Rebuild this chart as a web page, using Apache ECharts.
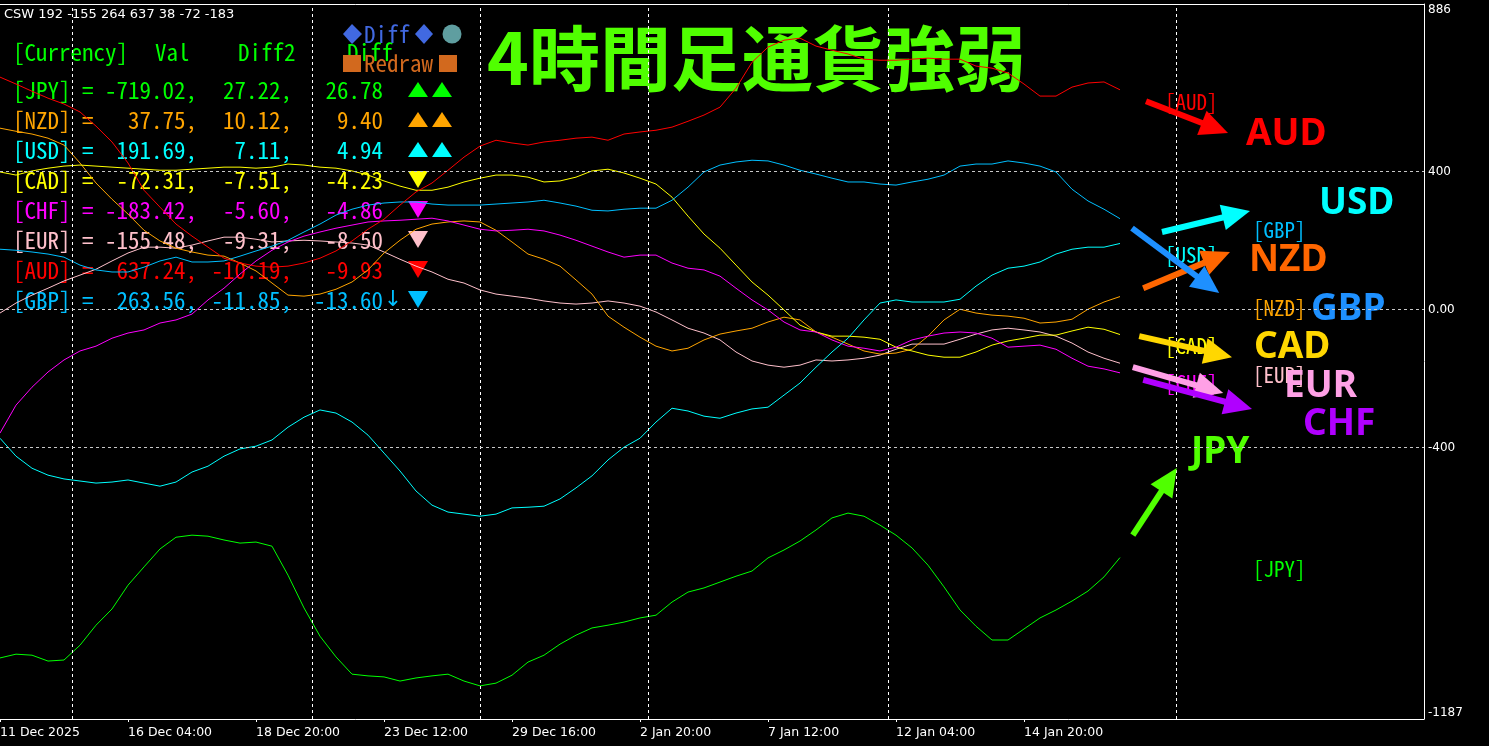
<!DOCTYPE html>
<html>
<head>
<meta charset="utf-8">
<script src="https://cdn.jsdelivr.net/npm/echarts@6/dist/echarts.min.js"></script>
<style>html,body{margin:0;padding:0;background:#000;}#chart{width:1489px;height:746px;}</style>
</head>
<body>
<div id="chart"></div>
<script>
// ---------------- data (one sample every 2 bars) ----------------
const barStep = 2;
const xTickLabels = ['11 Dec 2025','16 Dec 04:00','18 Dec 20:00','23 Dec 12:00','29 Dec 16:00','2 Jan 20:00','7 Jan 12:00','12 Jan 04:00','14 Jan 20:00'];
const xTickBars = [0,16,32,48,64,80,96,112,128];
const vGridBars = [9,39,60,81,111,147];
const hGridValues = [400,0,-400];
const yLabelValues = [-1187,-400,0,400,886];

const AUD = [674,654,633,613,596,573,532,486,425,346,297,248,213,181,149,135,126,123,126,135,149,170,199,233,262,303,341,367,404,442,474,491,483,477,486,491,497,500,491,509,515,520,529,546,564,587,642,717,761,781,787,764,752,741,726,723,723,726,729,726,726,706,700,686,654,619,619,645,657,660,637.24];
const GBP = [175,172,167,161,152,129,115,109,109,123,141,152,138,138,141,155,170,184,201,225,248,274,291,303,309,312,312,306,303,303,303,306,309,312,317,309,300,288,286,291,294,294,317,355,399,419,428,433,431,419,404,393,381,370,370,364,361,370,378,390,416,422,422,431,425,416,399,349,315,291,263.56];
const USD = [-373,-425,-460,-480,-491,-497,-503,-500,-494,-503,-512,-500,-471,-454,-425,-404,-396,-378,-341,-312,-291,-300,-326,-364,-416,-468,-526,-567,-587,-593,-599,-593,-575,-573,-570,-549,-517,-482,-436,-399,-373,-326,-286,-294,-309,-315,-300,-288,-283,-248,-213,-167,-123,-83,-30,19,28,22,22,22,30,68,100,120,126,138,161,175,181,181,191.69];
const JPY = [-1010,-999,-1002,-1019,-1016,-973,-915,-868,-799,-746,-694,-660,-654,-657,-668,-677,-674,-686,-770,-865,-947,-1007,-1057,-1062,-1065,-1077,-1068,-1062,-1057,-1077,-1091,-1083,-1060,-1022,-1002,-970,-944,-923,-915,-906,-894,-886,-848,-819,-807,-790,-773,-758,-720,-697,-671,-639,-604,-590,-599,-625,-654,-691,-741,-804,-871,-918,-958,-958,-926,-894,-871,-845,-816,-775,-719.02];
const CHF = [-358,-277,-225,-181,-146,-120,-106,-83,-68,-59,-39,-30,-13,28,62,103,141,172,196,213,225,236,245,254,257,259,262,265,257,245,233,228,230,233,228,216,201,184,167,152,158,158,135,120,115,97,62,28,-1,-36,-59,-65,-88,-106,-112,-120,-109,-88,-77,-68,-65,-68,-83,-109,-106,-103,-115,-141,-164,-172,-183.42];
const CAD = [399,390,402,410,416,419,416,413,410,407,404,404,407,410,413,413,410,413,422,419,413,410,402,390,373,358,346,346,355,370,381,390,390,384,370,373,384,402,407,396,381,364,326,271,219,178,129,80,42,-1,-45,-65,-77,-77,-80,-86,-109,-120,-132,-138,-138,-123,-103,-91,-83,-74,-74,-62,-51,-57,-72.31];
const NZD = [526,517,509,497,477,425,367,320,277,230,199,178,167,158,155,135,112,77,42,39,45,59,80,115,164,201,233,248,254,257,254,230,196,161,146,126,86,45,-19,-51,-80,-106,-120,-112,-88,-71,-62,-54,-36,-22,-30,-65,-80,-100,-120,-129,-126,-115,-77,-30,1,-10,-16,-19,-25,-39,-36,-28,1,22,37.75];
const EUR = [-10,19,42,62,83,100,117,141,164,181,181,178,187,199,210,210,204,196,199,201,199,196,193,187,167,146,126,109,88,77,57,45,39,33,25,19,16,19,25,19,10,-7,-30,-54,-68,-88,-123,-149,-161,-167,-161,-146,-149,-146,-141,-132,-115,-100,-100,-100,-86,-71,-59,-54,-59,-65,-77,-97,-123,-141,-155.48];

// table texts
const tableCurrencies = ['JPY','NZD','USD','CAD','CHF','EUR','AUD','GBP'];
const tableVal   = ['-719.02','37.75','191.69','-72.31','-183.42','-155.48','637.24','263.56'];
const tableDiff2 = ['27.22','10.12','7.11','-7.51','-5.60','-9.31','-10.19','-11.85'];
const tableDiff  = ['26.78','9.40','4.94','-4.23','-4.86','-8.50','-9.93','-13.60'];
const tableTrend = [2,2,2,-1,-1,-1,-1,-1];

// arrow annotations: [fromBar, fromValue, toBar, toValue]
const arrowAUD = [143.25,604,153.5,512];
const arrowUSD = [145.25,225,156.25,286];
const arrowNZD = [142.9,62,153.75,167];
const arrowGBP = [141.5,236,152.4,48];
const arrowCAD = [142.4,-77,154,-138];
const arrowEUR = [141.6,-167,152.9,-242];
const arrowCHF = [142.9,-204,156.5,-288];
const arrowJPY = [141.6,-654,147.1,-459];

// ---------------- styles ----------------
const lineColors = {JPY:'#00ff00',NZD:'#ffa500',USD:'#00ffff',CAD:'#ffff00',CHF:'#ff00ff',EUR:'#ffc0cb',AUD:'#ff0000',GBP:'#00bfff'};
const bigColors = {AUD:'#ff0000',USD:'#00ffff',NZD:'#ff6600',GBP:'#1e90ff',CAD:'#ffd700',EUR:'#ffa0e6',CHF:'#b000ff',JPY:'#50ff00'};
const mono = "'Noto Sans Mono CJK JP','Noto Sans Mono CJK SC','DejaVu Sans Mono',monospace";
const sans = "'DejaVu Sans',sans-serif";

const toPts = arr => arr.map((v,i)=>[i*barStep, v]);

const g = [];
function T(text,x,y,color,size,font,align,weight){
  g.push({type:'text',x:x,y:y,z:1,silent:true,style:{text:text,fill:color,fontSize:size,fontFamily:font,fontWeight:weight||'normal',align:align||'left',verticalAlign:'middle'}});
}
function P(points,color){ g.push({type:'polygon',z:1,silent:true,shape:{points:points},style:{fill:color}}); }

// top-left header
T('CSW 192 -155 264 637 38 -72 -183',4,15,'#ffffff',13,sans);
// table header
T('[Currency]',13,52,'#00ff00',23,mono);
T('Val',155,52,'#00ff00',23,mono);
T('Diff2',238,52,'#00ff00',23,mono);
T('Diff',347,52,'#00ff00',23,mono);
// Diff / Redraw buttons
P([[343,34],[352,24],[362,34],[352,44]],'#4169e1');
T('Diff',364,34,'#4169e1',23,mono);
P([[415,34],[424,24],[433,34],[424,44]],'#4169e1');
g.push({type:'circle',z:1,silent:true,shape:{cx:452,cy:34,r:9.5},style:{fill:'#5f9ea0'}});
g.push({type:'rect',z:1,silent:true,shape:{x:343,y:55,width:18,height:17},style:{fill:'#d2691e'}});
T('Redraw',364,63,'#d2691e',23,mono);
g.push({type:'rect',z:1,silent:true,shape:{x:439,y:55,width:18,height:17},style:{fill:'#d2691e'}});

// table rows
tableCurrencies.forEach((c,k)=>{
  const y = 90 + 30*k;
  const col = lineColors[c];
  T('['+c+'] = '+tableVal[k].padStart(7)+',',13,y,col,23,mono);
  T(tableDiff2[k]+',',292,y,col,23,mono,'right');
  T(tableDiff[k],383,y,col,23,mono,'right');
  if (tableTrend[k] > 0) {
    P([[408,y+7],[428,y+7],[418,y-8]],col);
    P([[432,y+7],[452,y+7],[442,y-8]],col);
  } else {
    P([[408,y-9],[428,y-9],[418,y+8]],col);
  }
});
T('↓',393,300,'#00bfff',22,sans,'center');

// title
T('4時間足通貨強弱',487,58,'#50ff00',71,"'Noto Sans CJK JP',sans-serif",'left','bold');

// small tags on the right
[['[AUD]',1165,102,'AUD'],['[GBP]',1253,230,'GBP'],['[USD]',1165,255,'USD'],['[NZD]',1253,308,'NZD'],
 ['[CAD]',1165,346,'CAD'],['[EUR]',1253,375,'EUR'],['[CHF]',1165,383,'CHF'],['[JPY]',1253,569,'JPY']]
 .forEach(t=>T(t[0],t[1],t[2],lineColors[t[3]],21,mono));
// big names on the right
[['AUD',1246,134],['USD',1319,203],['NZD',1249,260],['GBP',1311,309],['CAD',1254,347],['EUR',1284,386],['CHF',1303,424],['JPY',1191,452]]
 .forEach(t=>T(t[0],t[1],t[2],bigColors[t[0]],37,"'Noto Sans','Open Sans',sans-serif",'left','bold'));

const arrowData = [
  {value:arrowAUD,itemStyle:{color:bigColors.AUD}},
  {value:arrowUSD,itemStyle:{color:bigColors.USD}},
  {value:arrowNZD,itemStyle:{color:bigColors.NZD}},
  {value:arrowGBP,itemStyle:{color:bigColors.GBP}},
  {value:arrowCAD,itemStyle:{color:bigColors.CAD}},
  {value:arrowEUR,itemStyle:{color:bigColors.EUR}},
  {value:arrowCHF,itemStyle:{color:bigColors.CHF}},
  {value:arrowJPY,itemStyle:{color:bigColors.JPY}}
];

function lineSeries(name, arr, withGrid){
  const s = {name:name,type:'line',data:toPts(arr),showSymbol:false,symbol:'none',
    lineStyle:{color:lineColors[name],width:1},itemStyle:{color:lineColors[name]},z:3,silent:true};
  if (withGrid) {
    s.markLine = {silent:true,symbol:['none','none'],label:{show:false},animation:false,
      data: vGridBars.map(b=>({xAxis:b,lineStyle:{color:'#ffffff',type:[3,3],width:1}}))
        .concat(hGridValues.map(v=>({yAxis:v,lineStyle:{color:'#c8c8c8',type:[3,3],width:1}})))};
  }
  return s;
}

const chart = echarts.init(document.getElementById('chart'),null,{renderer:'canvas'});
chart.setOption({
  backgroundColor:'#000000',
  animation:false,
  grid:{left:0,right:65,top:4,bottom:27,containLabel:false,outerBoundsMode:'none'},
  xAxis:[{
    type:'value',min:0,max:178,interval:16,position:'bottom',
    axisLine:{show:true,onZero:false,lineStyle:{color:'#ffffff',width:1}},
    axisTick:{show:true,customValues:xTickBars,length:3,lineStyle:{color:'#ffffff'}},
    axisLabel:{customValues:xTickBars,formatter:v=>{const i=xTickBars.indexOf(v);return i>=0?xTickLabels[i]:'';},
      color:'#ffffff',fontFamily:sans,fontSize:12.5,align:'left',margin:7,showMinLabel:true,showMaxLabel:true,hideOverlap:false},
    splitLine:{show:false}
  },{
    type:'value',min:0,max:178,position:'top',
    axisLine:{show:true,onZero:false,lineStyle:{color:'#ffffff',width:1}},
    axisTick:{show:false},axisLabel:{show:false},splitLine:{show:false}
  }],
  yAxis:{
    type:'value',position:'right',min:-1187,max:886,
    axisLine:{show:true,onZero:false,lineStyle:{color:'#ffffff',width:1}},
    axisTick:{show:false},
    axisLabel:{customValues:yLabelValues,formatter:v=>v===0?'0.00':String(v),color:'#ffffff',
      fontFamily:sans,fontSize:12,margin:4,verticalAlignMaxLabel:'top',verticalAlignMinLabel:'bottom',
      showMinLabel:true,showMaxLabel:true},
    splitLine:{show:false}
  },
  graphic:g,
  series:[
    lineSeries('JPY',JPY,true),
    lineSeries('EUR',EUR),
    lineSeries('NZD',NZD),
    lineSeries('CAD',CAD),
    lineSeries('CHF',CHF),
    lineSeries('USD',USD),
    lineSeries('GBP',GBP),
    lineSeries('AUD',AUD),
    {type:'custom',silent:true,z:10,clip:false,encode:{x:[0,2],y:[1,3]},data:arrowData,
      renderItem:function(params,api){
        const p1 = api.coord([api.value(0),api.value(1)]);
        const p2 = api.coord([api.value(2),api.value(3)]);
        const color = api.visual('color');
        const dx = p2[0]-p1[0], dy = p2[1]-p1[1];
        const len = Math.sqrt(dx*dx+dy*dy);
        const ux = dx/len, uy = dy/len;
        const hl = 28, hw = 13;
        const bx = p2[0]-ux*hl, by = p2[1]-uy*hl;
        return {type:'group',children:[
          {type:'line',shape:{x1:p1[0],y1:p1[1],x2:bx+ux*3,y2:by+uy*3},style:{stroke:color,lineWidth:6}},
          {type:'polygon',shape:{points:[[p2[0],p2[1]],[bx-uy*hw,by+ux*hw],[bx+uy*hw,by-ux*hw]]},style:{fill:color}}
        ]};
      }}
  ]
});
</script>
</body>
</html>
